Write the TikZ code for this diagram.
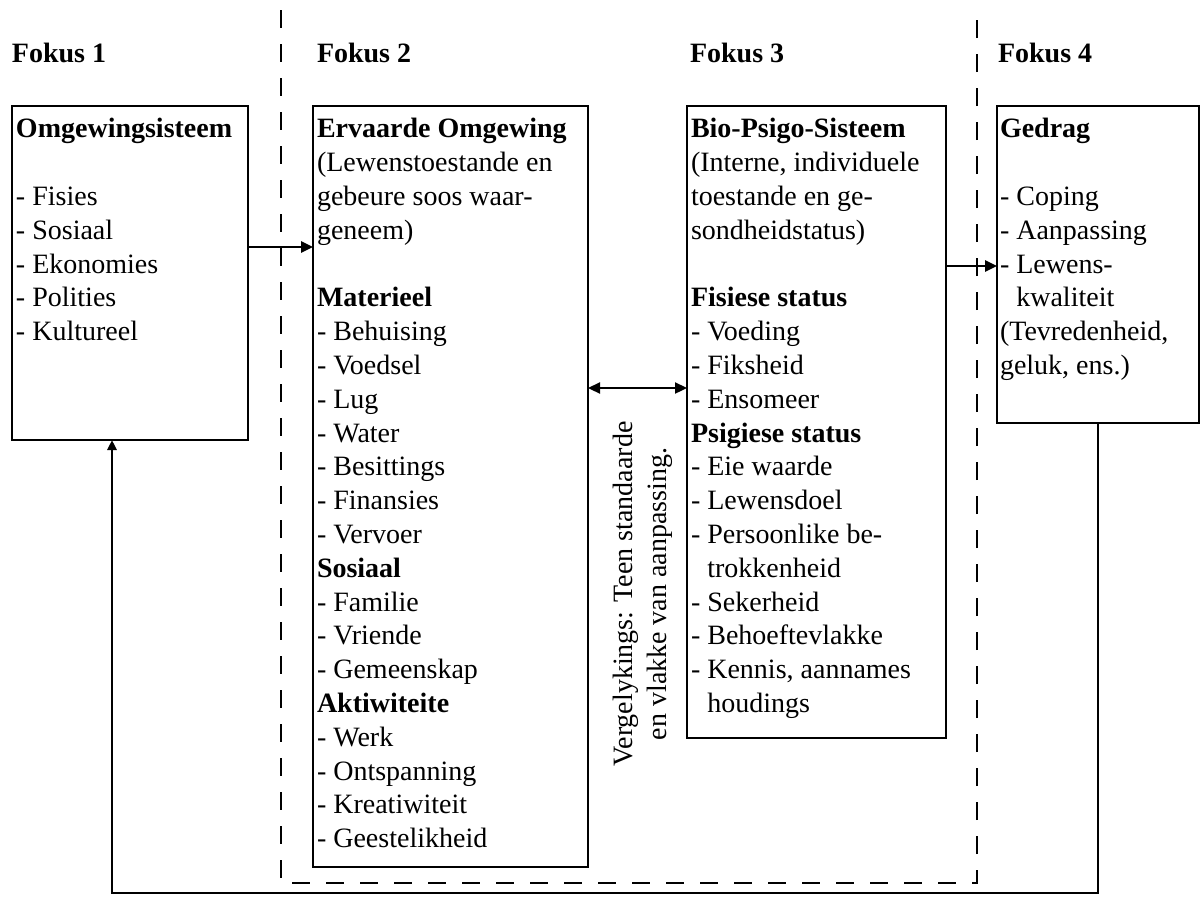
\documentclass[tikz,border=0pt]{standalone}
\usepackage{fontspec}
\setmainfont{Liberation Serif}
\usetikzlibrary{arrows.meta,calc}
\begin{document}
\begin{tikzpicture}[x=1pt,y=-1pt,
  every node/.style={inner sep=0pt,outer sep=0pt,font=\fontsize{28}{33.8}\selectfont},
  frame/.style={draw,line width=2.8pt,anchor=north west},
  body/.style={anchor=north west,align=left},
  focus/.style={anchor=base west,font=\fontsize{28}{33.8}\selectfont\bfseries},
  link/.style={line width=2.5pt,-{Triangle[length=12pt,width=11pt]}},
  zone/.style={line width=1.6pt,dash pattern=on 18pt off 16pt},
]
\useasboundingbox[fill=white] (0,0) rectangle (1202,913);

% column headings
\node[focus] (f1) at (12,62)  {Fokus 1};
\node[focus] (f2) at (317,62) {Fokus 2};
\node[focus] (f3) at (690,62) {Fokus 3};
\node[focus] (f4) at (998,62) {Fokus 4};

% dashed zone around the two middle columns
\coordinate (zL) at (281,10);
\coordinate (zR) at (977,10);
\coordinate (zB) at (0,883);
\draw[zone] (zL) -- (zL |- zB) -- (zR |- zB) -- (zR);

% frames
\node[frame,minimum width=236pt,minimum height=334pt] (b1) at (12,106)  {};
\node[frame,minimum width=275pt,minimum height=761pt] (b2) at (313,106) {};
\node[frame,minimum width=259pt,minimum height=632pt] (b3) at (687,106) {};
\node[frame,minimum width=202pt,minimum height=317pt] (b4) at (997,106) {};

% frame contents
\node[body] (t1) at (16,114.3) {\strut\textbf{Omgewingsisteem}\\ \strut\\
- Fisies\\- Sosiaal\\- Ekonomies\\- Polities\\- Kultureel};

\node[body] (t2) at (317,114.3) {\strut\textbf{Ervaarde Omgewing}\\
(Lewenstoestande en\\gebeure soos waar-\\geneem)\\ \strut\\
\textbf{Materieel}\\- Behuising\\- Voedsel\\- Lug\\- Water\\- Besittings\\- Finansies\\- Vervoer\\
\textbf{Sosiaal}\\- Familie\\- Vriende\\- Gemeenskap\\
\textbf{Aktiwiteite}\\- Werk\\- Ontspanning\\- Kreatiwiteit\\- Geestelikheid};

\node[body] (t3) at (691,114.3) {\strut\textbf{Bio-Psigo-Sisteem}\\
(Interne, individuele\\toestande en ge-\\sondheidstatus)\\ \strut\\
\textbf{Fisiese status}\\- Voeding\\- Fiksheid\\- Ensomeer\\
\textbf{Psigiese status}\\- Eie waarde\\- Lewensdoel\\- Persoonlike be-\\\hphantom{-\ }trokkenheid\\
- Sekerheid\\- Behoeftevlakke\\- Kennis, aannames\\\hphantom{-\ }houdings};

\node[body] (t4) at (1000,114.3) {\strut\textbf{Gedrag}\\ \strut\\
- Coping\\- Aanpassing\\- Lewens-\\\hphantom{-\ }kwaliteit\\(Tevredenheid,\\geluk, ens.)};

% comparison label between the middle frames
\node[rotate=90,align=center] (cmp) at (643,594)
  {Vergelykings: Teen standaarde\\en vlakke van aanpassing.};

% connectors
\coordinate (r1) at (0,247);
\coordinate (r2) at (0,388);
\coordinate (r3) at (0,266);
\draw[link] (b1.east |- r1) -- (b2.west |- r1);
\draw[line width=2.3pt,{Triangle[length=12pt,width=11pt]}-{Triangle[length=12pt,width=11pt]}]
  (b2.east |- r2) -- (b3.west |- r2);
\draw[link] (b3.east |- r3) -- (b4.west |- r3);

% feedback loop back to the first frame
\coordinate (fb) at (112,893);
\draw[line width=2.6pt,-{Triangle[length=10pt,width=9pt]}]
  (b4.south) |- (fb) -- (b1.south -| fb);
\end{tikzpicture}
\end{document}
